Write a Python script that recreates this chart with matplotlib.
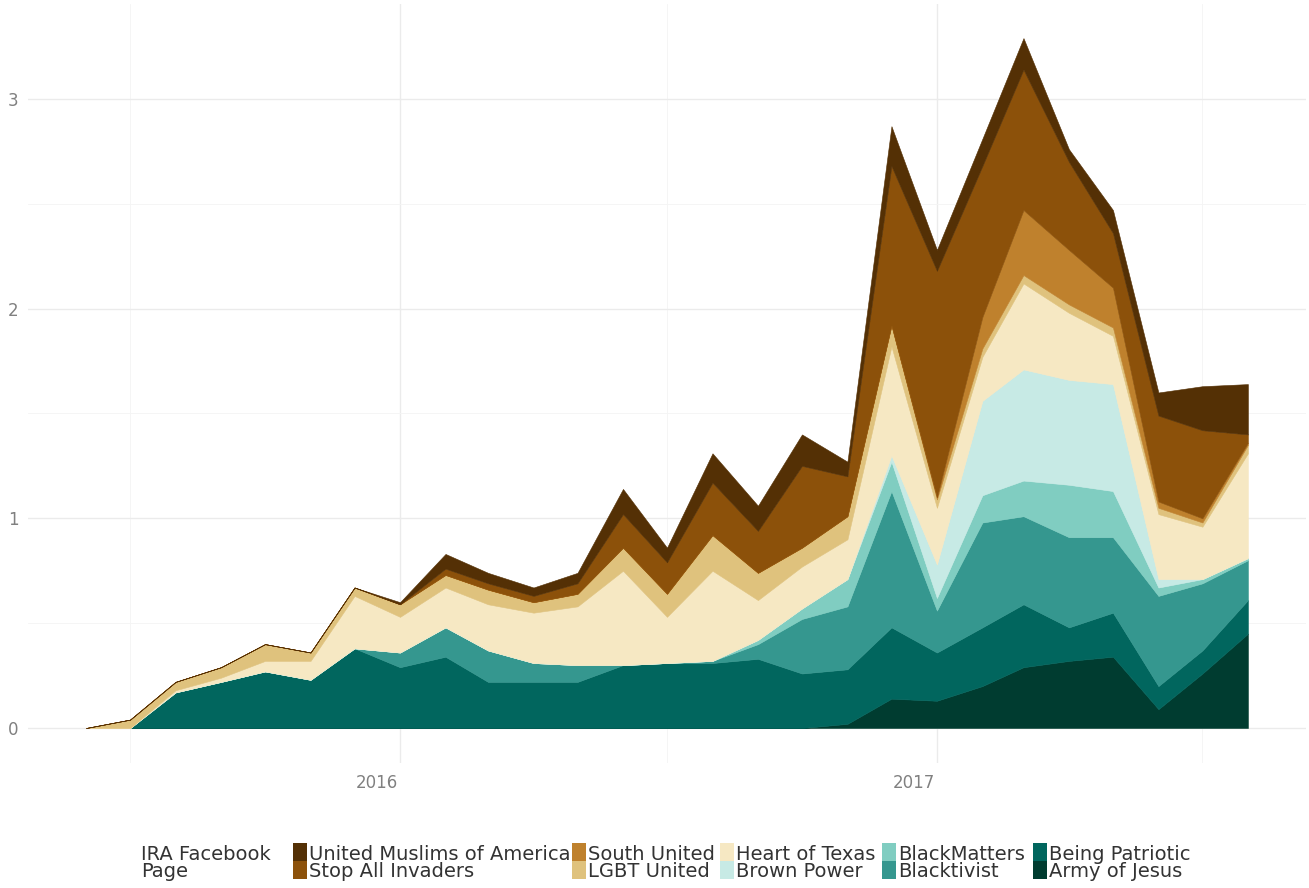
import numpy as np
import pandas as pd
import matplotlib
matplotlib.use("Agg")
import matplotlib.pyplot as plt
import matplotlib.dates as mdates
from matplotlib.ticker import MultipleLocator
from matplotlib.patches import Rectangle

# monthly counts per IRA facebook page
months = pd.date_range("2015-06-01", "2017-08-01", freq="MS")

army_of_jesus = [0, 0, 0, 0, 0, 0, 0, 0, 0, 0, 0, 0, 0, 0, 0, 0, 0,
                 0.02, 0.14, 0.13, 0.20, 0.29, 0.32, 0.34, 0.09, 0.26, 0.45]
being_patriotic = [0, 0, 0.17, 0.22, 0.27, 0.23, 0.38, 0.29, 0.34, 0.22, 0.22, 0.22, 0.30, 0.31,
                   0.31, 0.33, 0.26, 0.26, 0.34, 0.23, 0.28, 0.30, 0.16, 0.21, 0.11, 0.11, 0.16]
blacktivist = [0, 0, 0, 0, 0, 0, 0, 0.07, 0.14, 0.15, 0.09, 0.08, 0, 0,
               0.01, 0.07, 0.26, 0.30, 0.65, 0.20, 0.50, 0.42, 0.43, 0.36, 0.43, 0.32, 0.19]
blackmatters = [0, 0, 0, 0, 0, 0, 0, 0, 0, 0, 0, 0, 0, 0,
                0, 0.02, 0.05, 0.13, 0.14, 0.06, 0.13, 0.17, 0.25, 0.22, 0.04, 0.02, 0.01]
brown_power = [0, 0, 0, 0, 0, 0, 0, 0, 0, 0, 0, 0, 0, 0,
               0, 0, 0, 0, 0.03, 0.16, 0.45, 0.53, 0.50, 0.51, 0.04, 0, 0]
heart_of_texas = [0, 0, 0.01, 0.02, 0.05, 0.09, 0.25, 0.17, 0.19, 0.22, 0.24, 0.28, 0.45, 0.22,
                  0.43, 0.19, 0.20, 0.19, 0.52, 0.27, 0.21, 0.41, 0.32, 0.23, 0.31, 0.25, 0.50]
lgbt_united = [0, 0.04, 0.04, 0.05, 0.08, 0.04, 0.04, 0.06, 0.06, 0.07, 0.05, 0.06, 0.11, 0.11,
               0.17, 0.13, 0.09, 0.11, 0.10, 0.04, 0.04, 0.04, 0.04, 0.04, 0.03, 0.02, 0.04]
south_united = [0, 0, 0, 0, 0, 0, 0, 0, 0, 0, 0, 0, 0, 0,
                0, 0, 0, 0, 0, 0.01, 0.15, 0.31, 0.26, 0.19, 0.03, 0.02, 0.01]
stop_all_invaders = [0, 0, 0, 0, 0, 0, 0, 0, 0.03, 0.03, 0.03, 0.05, 0.16, 0.15,
                     0.25, 0.20, 0.39, 0.19, 0.76, 1.08, 0.72, 0.67, 0.42, 0.26, 0.41, 0.42, 0.04]
united_muslims = [0, 0, 0, 0, 0, 0, 0, 0.01, 0.07, 0.05, 0.04, 0.05, 0.12, 0.07,
                  0.14, 0.12, 0.15, 0.07, 0.19, 0.10, 0.13, 0.15, 0.06, 0.11, 0.11, 0.21, 0.24]

# stacking order, bottom first
pages = ["Army of Jesus", "Being Patriotic", "Blacktivist", "BlackMatters", "Brown Power",
         "Heart of Texas", "LGBT United", "South United", "Stop All Invaders",
         "United Muslims of America"]
series = [army_of_jesus, being_patriotic, blacktivist, blackmatters, brown_power,
          heart_of_texas, lgbt_united, south_united, stop_all_invaders, united_muslims]
colors = ["#003c30", "#01665e", "#35978f", "#80cdc1", "#c7eae5",
          "#f6e8c3", "#dfc27d", "#bf812d", "#8c510a", "#543005"]
year_labels = [2016, 2017]

W, H = 1309, 888
fig = plt.figure(figsize=(W / 100, H / 100), dpi=100)
ax = fig.add_axes([28 / W, 1 - 762.5 / H, (1306 - 28) / W, (762.5 - 3.6) / H])

ax.stackplot(months, *series, colors=colors, linewidth=0.4, edgecolor="face")

# ggplot style 5% expansion
total = np.sum(np.array(series), axis=0)
span = months[-1] - months[0]
ax.set_xlim(months[0] - span * 0.05, months[-1] + span * 0.05)
ax.set_ylim(-0.05 * total.max(), 1.05 * total.max())

ax.xaxis.set_major_locator(mdates.YearLocator())
ax.xaxis.set_minor_locator(mdates.MonthLocator(bymonth=7))
ax.yaxis.set_major_locator(MultipleLocator(1))
ax.yaxis.set_minor_locator(MultipleLocator(0.5))
ax.grid(which="major", color="#ebebeb", linewidth=1.0)
ax.grid(which="minor", color="#f4f4f4", linewidth=0.6)
ax.set_axisbelow(True)
for s in ax.spines.values():
    s.set_visible(False)
ax.tick_params(which="both", length=0)
ax.tick_params(axis="y", labelsize=12, labelcolor="#808080", pad=7)
ax.tick_params(axis="x", labelbottom=False)
ax.set_yticks([0, 1, 2, 3])

# year labels sit a little left of their grid lines in the original
for year in year_labels:
    xd = mdates.date2num(pd.Timestamp(f"{year}-01-01"))
    ax.annotate(str(year), xy=(xd, 0), xycoords=ax.get_xaxis_transform(),
                xytext=(-23 * 0.72, -8), textcoords="offset points",
                ha="center", va="top", fontsize=12, color="#808080")

# legend drawn by hand: title + 5 columns x 2 rows
fig.text(141 / W, 1 - 860 / H, "IRA Facebook", fontsize=14, color="#333333", va="baseline")
fig.text(141 / W, 1 - 877 / H, "Page", fontsize=14, color="#333333", va="baseline")
key_x = [293, 572, 720, 882, 1033]
row_top = [843, 861]
row_base = [860, 877]
legend_order = list(range(len(pages)))[::-1]
for i, idx in enumerate(legend_order):
    col, row = i // 2, i % 2
    fig.add_artist(Rectangle((key_x[col] / W, 1 - (row_top[row] + 17.5) / H),
                             14 / W, 17.5 / H, transform=fig.transFigure,
                             facecolor=colors[idx], edgecolor="none"))
    fig.text((key_x[col] + 16) / W, 1 - row_base[row] / H, pages[idx],
             fontsize=14, color="#333333", va="baseline")

fig.savefig("out.png", dpi=100)
